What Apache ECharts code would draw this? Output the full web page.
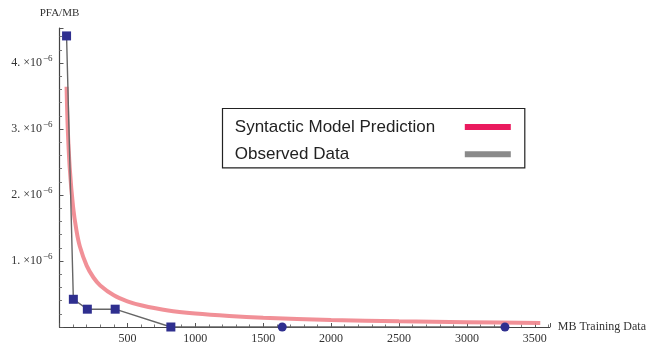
<!DOCTYPE html>
<html>
<head>
<meta charset="utf-8">
<script src="https://cdn.jsdelivr.net/npm/echarts@6/dist/echarts.min.js"></script>
<style>html,body{margin:0;padding:0;background:#fff;}#c{width:649px;height:346px;}</style>
</head>
<body>
<div id="c"></div>
<script>
// Data
const predX = [52, 60, 75, 100, 125, 150, 200, 250, 300, 400, 500, 600, 800, 1000, 1250, 1500, 2000, 2500, 3000, 3540];
const predY = [3.64e-6, 3.05e-6, 2.42e-6, 1.82e-6, 1.46e-6, 1.22e-6, 0.93e-6, 0.75e-6, 0.63e-6, 0.48e-6, 0.39e-6, 0.33e-6, 0.25e-6, 0.205e-6, 0.168e-6, 0.142e-6, 0.107e-6, 0.087e-6, 0.073e-6, 0.06e-6];
const obsX = [52, 102, 205, 410, 820, 1640, 3280];
const obsY = [4.41e-6, 0.42e-6, 0.27e-6, 0.27e-6, 0.0, 0.0, 0.0];
const obsSymbols = ['rect', 'rect', 'rect', 'rect', 'rect', 'circle', 'circle'];
const xTicks = [500, 1000, 1500, 2000, 2500, 3000, 3500];
const yTicks = [1, 2, 3, 4]; // × 10^-6
const seriesNames = ['Syntactic Model Prediction', 'Observed Data'];

const serif = 'Liberation Serif';
const chart = echarts.init(document.getElementById('c'));
const predData = predX.map((x, i) => [x, predY[i]]);
const obsData = obsX.map((x, i) => ({ value: [x, obsY[i]], symbol: obsSymbols[i] }));

chart.setOption({
  animation: false,
  backgroundColor: '#fff',
  grid: { left: 59.5, right: 96, top: 28, bottom: 19 },
  legend: {
    orient: 'vertical',
    left: 222.5,
    top: 108.5,
    align: 'right',
    icon: 'rect',
    itemWidth: 46,
    itemHeight: 6,
    itemGap: 10.2,
    padding: [10, 14, 5.2, 12.3],
    borderColor: '#222',
    borderWidth: 1.2,
    formatter: name => '{t|' + name + '}',
    textStyle: {
      rich: { t: { fontFamily: 'Liberation Sans', fontSize: 17, color: '#222', width: 225, align: 'left', lineHeight: 20 } }
    },
    data: [
      { name: seriesNames[0], itemStyle: { color: '#ea1a5e' } },
      { name: seriesNames[1], itemStyle: { color: '#8a8a8a' } }
    ],
    selectedMode: false
  },
  xAxis: {
    type: 'value',
    min: 0,
    max: 3610,
    interval: 500,
    name: 'MB Training Data',
    nameLocation: 'end',
    nameGap: 8,
    nameTextStyle: { fontFamily: serif, fontSize: 12, color: '#333' },
    axisLine: { lineStyle: { color: '#444', width: 1.2 } },
    axisTick: { inside: true, length: 4, lineStyle: { color: '#555' } },
    minorTick: { show: true, splitNumber: 5, length: 2.5, lineStyle: { color: '#777' } },
    splitLine: { show: false },
    axisLabel: {
      margin: 6,
      fontFamily: serif, fontSize: 12, color: '#333',
      showMaxLabel: false, showMinLabel: false,
      formatter: v => xTicks.includes(Math.round(v)) ? String(Math.round(v)) : ''
    }
  },
  yAxis: {
    type: 'value',
    min: 0,
    max: 4.53e-6,
    interval: 1e-6,
    name: 'PFA/MB',
    nameLocation: 'end',
    nameGap: 9,
    nameTextStyle: { fontFamily: serif, fontSize: 11, color: '#333', align: 'center' },
    axisLine: { show: true, lineStyle: { color: '#444', width: 1.2 } },
    axisTick: { inside: true, length: 4, lineStyle: { color: '#555' } },
    minorTick: { show: true, splitNumber: 5, length: 2.5, lineStyle: { color: '#777' } },
    splitLine: { show: false },
    axisLabel: {
      margin: 7,
      showMaxLabel: false, showMinLabel: false,
      formatter: v => {
        const k = Math.round(v / 1e-6);
        if (!yTicks.includes(k) || Math.abs(v / 1e-6 - k) > 1e-6) return '';
        return '{a|' + k + '. ×10}{s|−6}';
      },
      rich: {
        a: { fontFamily: serif, fontSize: 12, color: '#333' },
        s: { fontFamily: serif, fontSize: 9, color: '#333', padding: [0, 0, 9, 1] }
      }
    }
  },
  series: [
    {
      name: seriesNames[0],
      type: 'line',
      data: predData,
      showSymbol: false,
      smooth: 0.3,
      lineStyle: { color: '#f0848c', width: 4, opacity: 0.9 },
      itemStyle: { color: '#ea1a5e' },
      z: 2
    },
    {
      name: seriesNames[1],
      type: 'line',
      data: obsData,
      symbolSize: 9,
      lineStyle: { color: '#666', width: 1.4 },
      itemStyle: { color: '#2f2f8f' },
      z: 3
    }
  ]
});
</script>
</body>
</html>
